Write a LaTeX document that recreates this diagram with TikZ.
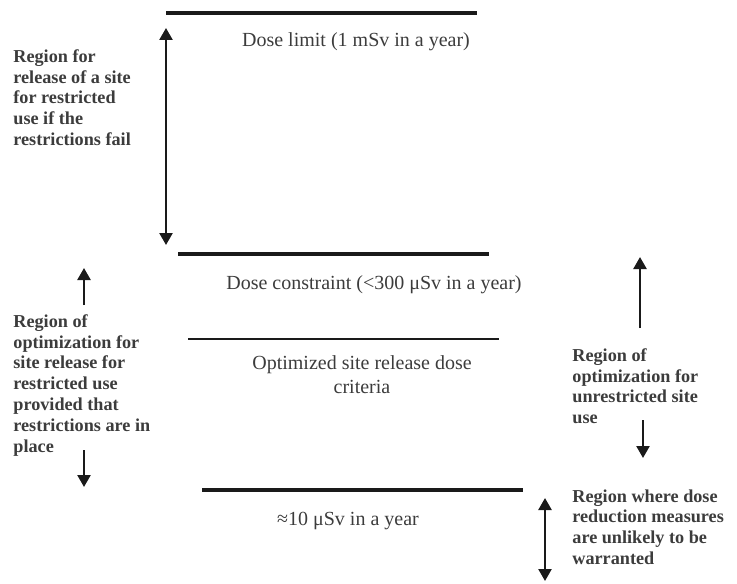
\documentclass[tikz,border=0pt]{standalone}
\usepackage{fontspec}
\setmainfont{Liberation Serif}
\definecolor{doseBlack}{HTML}{1A1A1A}
\definecolor{doseGrey}{HTML}{3C3C3C}
\usetikzlibrary{arrows.meta, positioning}
\tikzset{
    level line/.style={line width=2pt, doseBlack},
    thin level/.style={line width=1pt, doseBlack},
    level label/.style={font=\fontsize{10}{12}\selectfont, text=doseGrey, align=center, inner sep=0pt},
    region text/.style={font=\fontsize{9.1}{10.4}\selectfont\bfseries, text=doseGrey, align=left, anchor=north west, inner sep=0pt},
    arrow style/.style={-{Triangle[length=6pt, width=6.5pt]}, line width=1.2pt, doseBlack},
    double arrow/.style={{Triangle[length=6pt, width=6.5pt]}-{Triangle[length=6pt, width=6.5pt]}, line width=1.2pt, doseBlack},
}
\begin{document}
\begin{tikzpicture}[x=0.5pt, y=-0.5pt]
    \useasboundingbox (0,0) rectangle (737,583);
    % dose levels
    \coordinate (limitL) at (166,13);
    \coordinate (limitR) at (477,13);
    \coordinate (constraintL) at (178,254);
    \coordinate (constraintR) at (489,254);
    \coordinate (optimL) at (188,339);
    \coordinate (optimR) at (499,339);
    \coordinate (trivialL) at (202,490);
    \coordinate (trivialR) at (523,490);
    \draw[level line] (limitL) -- (limitR);
    \draw[level line] (constraintL) -- (constraintR);
    \draw[thin level] (optimL) -- (optimR);
    \draw[level line] (trivialL) -- (trivialR);
    \node[level label] (limitText) at (356,42) {Dose limit (1 mSv in a year)};
    \node[level label] (constraintText) at (374,285) {Dose constraint (<300 μSv in a year)};
    \node[level label] (optimText) at (362,375) {Optimized site release dose\\criteria};
    \node[level label] (trivialText) at (348,521) {≈10 μSv in a year};
    % region texts
    \node[region text] (failText) at (13,49) {Region for\\release of a site\\for restricted\\use if the\\restrictions fail};
    \node[region text] (restrictedText) at (13,314) {Region of\\optimization for\\site release for\\restricted use\\provided that\\restrictions are in\\place};
    \node[region text] (unrestrictedText) at (572,348) {Region of\\optimization for\\unrestricted site\\use};
    \node[region text] (negligibleText) at (572,489) {Region where dose\\reduction measures\\are unlikely to be\\warranted};
    % arrows
    \coordinate (failTop) at (166,28);
    \coordinate (failBot) at (166,245);
    \coordinate (restrUpTail) at (84,305);
    \coordinate (restrUpTip) at (84,268);
    \coordinate (restrDownTail) at (84,450);
    \coordinate (restrDownTip) at (84,487);
    \coordinate (unrestrUpTail) at (640,328);
    \coordinate (unrestrUpTip) at (640,257);
    \coordinate (unrestrDownTail) at (643,420);
    \coordinate (unrestrDownTip) at (643,458);
    \coordinate (negTop) at (545,498);
    \coordinate (negBot) at (545,581);
    \draw[double arrow] (failTop) -- (failBot);
    \draw[arrow style] (restrUpTail) -- (restrUpTip);
    \draw[arrow style] (restrDownTail) -- (restrDownTip);
    \draw[arrow style] (unrestrUpTail) -- (unrestrUpTip);
    \draw[arrow style] (unrestrDownTail) -- (unrestrDownTip);
    \draw[double arrow] (negTop) -- (negBot);
\end{tikzpicture}
\end{document}
